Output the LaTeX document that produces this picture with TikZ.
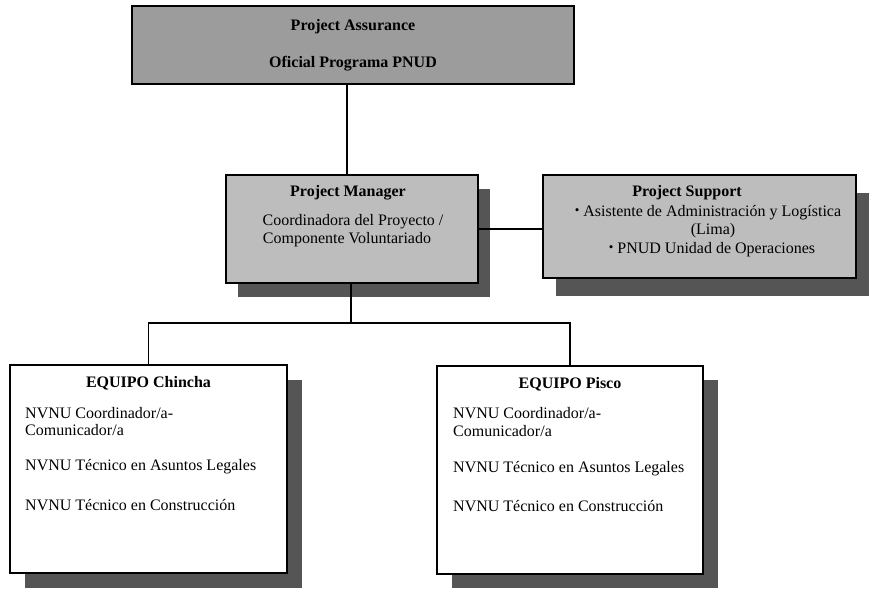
\documentclass[tikz,border=0pt]{standalone}
\usepackage{fontspec}
\setmainfont{Liberation Serif}
\usetikzlibrary{shadows}
\definecolor{topgray}{HTML}{9C9C9C}
\definecolor{boxgray}{HTML}{BDBDBD}
\definecolor{shadowgray}{HTML}{555555}
\newcommand{\smallbul}{{\fontsize{13}{13}\selectfont\raisebox{2.5pt}{•}}}
\tikzset{
  orgbox/.style={draw=black, line width=1.8pt, rectangle, inner sep=0pt},
  lbl/.style={inner sep=0pt, font=\fontsize{16}{18}\selectfont},
  blbl/.style={lbl, font=\fontsize{16}{18}\selectfont\bfseries},
  conn/.style={draw=black, line width=1.4pt}
}
\begin{document}
\begin{tikzpicture}[x=1pt, y=-1pt]
\useasboundingbox (0,0) rectangle (869,590);
% boxes
\node[orgbox, fill=topgray, minimum width=442pt, minimum height=78pt] (top) at (353,45) {};
\node[orgbox, fill=boxgray, minimum width=252pt, minimum height=108pt,
      drop shadow={shadow xshift=12pt, shadow yshift=-14pt, opacity=1, fill=shadowgray}] (mgr) at (352,229) {};
\node[orgbox, fill=boxgray, minimum width=313pt, minimum height=103pt,
      drop shadow={shadow xshift=13pt, shadow yshift=-18pt, opacity=1, fill=shadowgray}] (sup) at (699.5,226.5) {};
\node[orgbox, fill=white, minimum width=277pt, minimum height=208pt,
      drop shadow={shadow xshift=15pt, shadow yshift=-15pt, opacity=1, fill=shadowgray}] (chin) at (148.5,469) {};
\node[orgbox, fill=white, minimum width=266pt, minimum height=208pt,
      drop shadow={shadow xshift=15pt, shadow yshift=-14pt, opacity=1, fill=shadowgray}] (pisco) at (570,470) {};
% connectors
\coordinate (vx) at (347,0);
\coordinate (bus) at (351,323);
\draw[conn] (top.south -| vx) -- (mgr.north -| vx);
\draw[conn] (mgr.east) -- (mgr.east -| sup.west);
\draw[conn] (mgr.south -| bus) -- (bus);
\draw[conn] (chin.north) |- (bus) -| (pisco.north);
% texts: top
\node[blbl] (t1) at (353,27) {Project Assurance};
\node[blbl] (t2) at (353,64) {Oficial Programa PNUD};
% manager
\node[blbl] (m1) at (348,193) {Project Manager};
\node[lbl] (m2) at (353,222) {Coordinadora del Proyecto /};
\node[lbl] (m3) at (347,240) {Componente Voluntariado};
% support
\node[blbl] (s1) at (687,193) {Project Support};
\node[lbl] (s2) at (708,213) {\smallbul\ Asistente de Administración y Logística};
\node[lbl] (s3) at (713,231) {(Lima)};
\node[lbl] (s4) at (712,250) {\smallbul\ PNUD Unidad de Operaciones};
% Chincha
\node[blbl] (c0) at (148.5,383) {EQUIPO Chincha};
\node[lbl, anchor=west] (c1) at (25,413) {NVNU Coordinador/a-};
\node[lbl, anchor=west] (c2) at (25,430.5) {Comunicador/a};
\node[lbl, anchor=west] (c3) at (25,467) {NVNU Técnico en Asuntos Legales};
\node[lbl, anchor=west] (c4) at (25,505) {NVNU Técnico en Construcción};
% Pisco
\node[blbl] (p0) at (570,384) {EQUIPO Pisco};
\node[lbl, anchor=west] (p1) at (453,413) {NVNU Coordinador/a-};
\node[lbl, anchor=west] (p2) at (453,431) {Comunicador/a};
\node[lbl, anchor=west] (p3) at (453,469) {NVNU Técnico en Asuntos Legales};
\node[lbl, anchor=west] (p4) at (453,506) {NVNU Técnico en Construcción};
\end{tikzpicture}
\end{document}
